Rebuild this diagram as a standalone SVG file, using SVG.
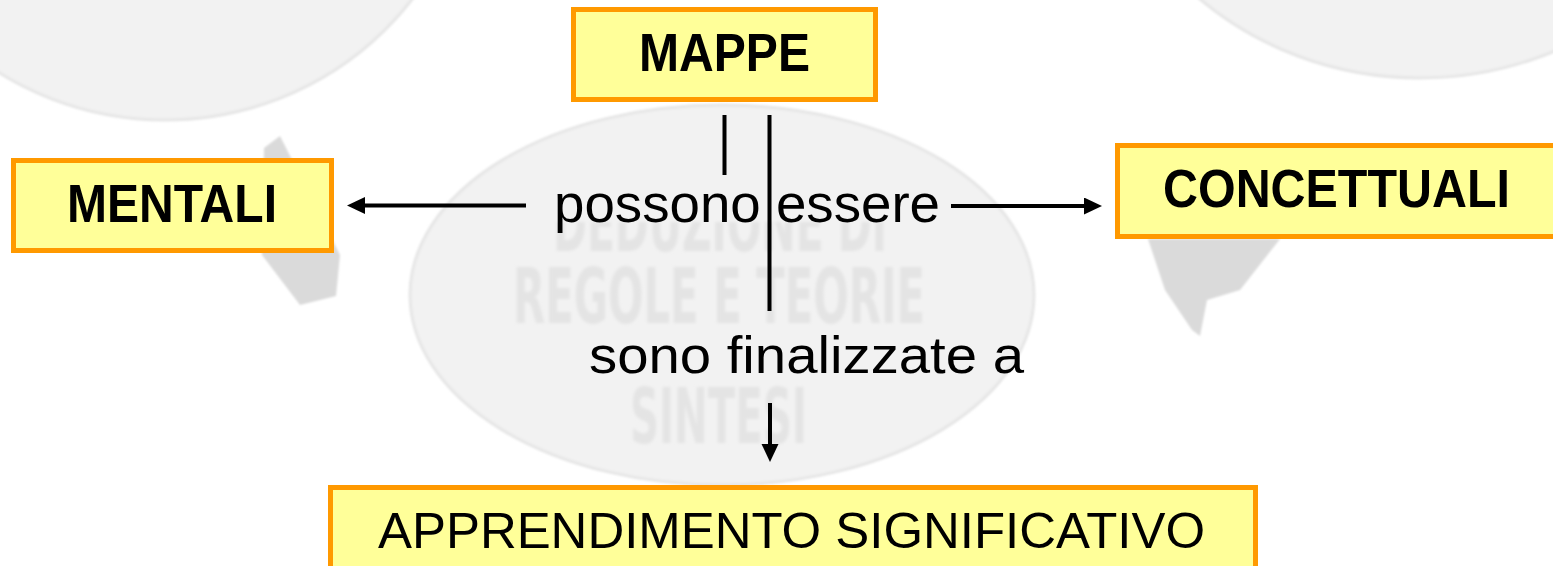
<svg xmlns="http://www.w3.org/2000/svg" width="1553" height="566" viewBox="0 0 1553 566">
<style>
.box{fill:#FFFF99;stroke:#FF9900;stroke-width:5}
.bold{font-family:"Liberation Sans",Arial,sans-serif;font-weight:bold;fill:#000}
.reg{font-family:"Liberation Sans",Arial,sans-serif;fill:#000}
.conn{stroke:#000;stroke-width:4;fill:none}
.bg{fill:#F2F2F2;stroke:#E6E6E6;stroke-width:3}
.tail{fill:#DADADA}
.faint{font-family:"Liberation Sans Narrow","DejaVu Sans Condensed",sans-serif;font-weight:bold;fill:#E4E4E4}
</style>
<defs>
<marker id="arr" markerUnits="userSpaceOnUse" markerWidth="20" markerHeight="18" refX="9" refY="8.5" orient="auto">
<path d="M0,0 L18,8.5 L0,17 z" fill="#000"/>
</marker>
<filter id="soft" x="-10%" y="-10%" width="120%" height="120%"><feGaussianBlur stdDeviation="1.2"/></filter>
<filter id="softer" x="-10%" y="-10%" width="120%" height="120%"><feGaussianBlur stdDeviation="1.8"/></filter>
<clipPath id="clipDed"><rect x="500" y="222" width="450" height="40"/></clipPath>
</defs>
<rect width="1553" height="566" fill="#FFFFFF"/>
<g id="background" filter="url(#soft)">
<ellipse class="bg" cx="165" cy="-185" rx="310" ry="305"/>
<ellipse class="bg" cx="1420" cy="-232" rx="330" ry="310"/>
<ellipse class="bg" cx="722" cy="295" rx="312" ry="190"/>
<polygon class="tail" points="264,148 280,136 340,255 336,296 300,305 262,255"/>
<polygon class="tail" points="1148,239 1280,239 1240,290 1207,300 1200,336 1192,330 1165,290"/>
</g>
<g id="faint-text" filter="url(#softer)">
<g clip-path="url(#clipDed)"><text class="faint" x="553" y="251" font-size="76" textLength="334" lengthAdjust="spacingAndGlyphs">DEDUZIONE DI</text></g>
<text class="faint" x="513" y="323" font-size="76" textLength="412" lengthAdjust="spacingAndGlyphs">REGOLE E TEORIE</text>
<text class="faint" x="630" y="443" font-size="76" textLength="177" lengthAdjust="spacingAndGlyphs">SINTESI</text>
</g>
<g id="node-mappe">
<rect class="box" x="573.5" y="9.5" width="302" height="90"/>
<text class="bold" x="639" y="71" font-size="54" textLength="171" lengthAdjust="spacingAndGlyphs">MAPPE</text>
</g>
<g id="node-mentali">
<rect class="box" x="13.5" y="160.5" width="318" height="90"/>
<text class="bold" x="67" y="222" font-size="54" textLength="210" lengthAdjust="spacingAndGlyphs">MENTALI</text>
</g>
<g id="node-concettuali">
<rect class="box" x="1117.5" y="145.5" width="450" height="91"/>
<text class="bold" x="1163" y="207" font-size="54" textLength="347" lengthAdjust="spacingAndGlyphs">CONCETTUALI</text>
</g>
<g id="node-apprendimento">
<rect class="box" x="330.5" y="487.5" width="925" height="100"/>
<text class="reg" x="378" y="548" font-size="50" textLength="827" lengthAdjust="spacingAndGlyphs">APPRENDIMENTO SIGNIFICATIVO</text>
</g>
<g id="connectors">
<line class="conn" x1="724.5" y1="115" x2="724.5" y2="175"/>
<line class="conn" x1="769.5" y1="115" x2="769.5" y2="311"/>
<line class="conn" x1="526" y1="205.5" x2="356" y2="205.5" marker-end="url(#arr)"/>
<line class="conn" x1="951" y1="206" x2="1093" y2="206" marker-end="url(#arr)"/>
<line class="conn" x1="770" y1="403" x2="770" y2="453" marker-end="url(#arr)"/>
<text class="reg" x="554" y="222" font-size="54" textLength="386" lengthAdjust="spacingAndGlyphs">possono essere</text>
<text class="reg" x="589" y="373" font-size="52" textLength="435" lengthAdjust="spacingAndGlyphs">sono finalizzate a</text>
</g>
</svg>
